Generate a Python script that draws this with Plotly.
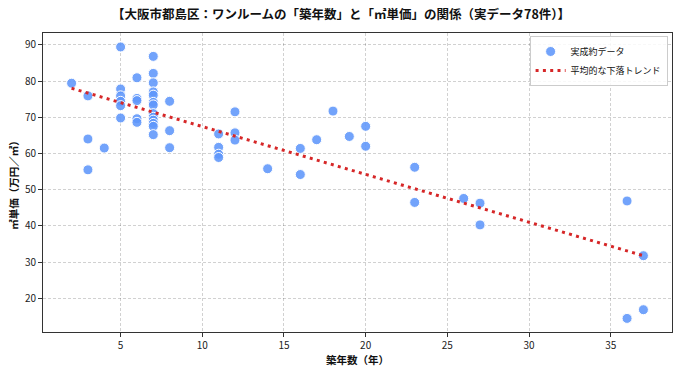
import plotly.graph_objects as go

# Observed transactions (building age in years, price per m2 in 10k yen)
age_years = [2, 3, 3, 3, 4,
             5, 5, 5, 5, 5, 5,
             6, 6, 6, 6, 6,
             7, 7, 7, 7, 7, 7, 7, 7, 7, 7, 7, 7, 7,
             8, 8, 8,
             11, 11, 11, 11,
             12, 12, 12,
             14, 16, 16, 17, 18, 19, 20, 20,
             23, 23, 26, 27, 27, 36, 36, 37, 37]
unit_price = [79.4, 75.9, 64.0, 55.5, 61.5,
              89.4, 77.8, 75.9, 74.4, 73.2, 69.8,
              80.9, 75.2, 74.6, 69.6, 68.6,
              86.8, 82.1, 79.5, 77.0, 76.1, 74.1, 73.4, 71.0, 70.0, 69.2, 68.3, 67.5, 65.2,
              74.4, 66.3, 61.6,
              65.4, 61.7, 59.8, 58.9,
              71.5, 65.7, 63.7,
              55.8, 61.4, 54.2, 63.8, 71.7, 64.7, 67.5, 62.0,
              56.2, 46.5, 47.6, 46.3, 40.3, 46.9, 14.5, 31.8, 16.9]

# Trend line end points
trend_x = [2, 37]
trend_y = [78.0, 31.8]

title_text = "【大阪市都島区：ワンルームの「築年数」と「㎡単価」の関係（実データ78件）】"
x_title = "築年数（年）"
y_title = "㎡単価（万円／㎡）"
x_ticks = [5, 10, 15, 20, 25, 30, 35]
y_ticks = [20, 30, 40, 50, 60, 70, 80, 90]

font_family = "Noto Sans CJK JP, DejaVu Sans, sans-serif"

fig = go.Figure()
fig.add_trace(go.Scatter(
    x=age_years, y=unit_price, mode="markers", name="実成約データ",
    marker=dict(color="rgba(95,150,250,0.88)", size=10,
                line=dict(color="white", width=1)),
))
fig.add_trace(go.Scatter(
    x=trend_x, y=trend_y, mode="lines", name="平均的な下落トレンド",
    line=dict(color="#d62728", width=3, dash="3px,4.3px"),
))

axis_common = dict(
    showline=True, linecolor="#333333", linewidth=1, mirror=True,
    ticks="outside", ticklen=4, tickcolor="#333333",
    showgrid=True, gridcolor="rgba(0,0,0,0.18)", griddash="3px,2px", gridwidth=1,
    zeroline=False, tickfont=dict(size=10, color="#222222", family=font_family),
)

fig.update_layout(
    width=682, height=375,
    margin=dict(l=43, r=10, t=33, b=43),
    paper_bgcolor="white", plot_bgcolor="white",
    font=dict(family=font_family, color="#111111"),
    title=dict(text="<b>" + title_text + "</b>", x=0.5, xanchor="center",
               y=0.962, yanchor="middle", font=dict(size=12.5, family=font_family)),
    xaxis=dict(range=[0.25, 38.75], tickvals=x_ticks,
               title=dict(text="<b>" + x_title + "</b>", font=dict(size=10.5), standoff=4),
               **axis_common),
    yaxis=dict(range=[10.75, 93.25], tickvals=y_ticks,
               title=dict(text="<b>" + y_title + "</b>", font=dict(size=10.5), standoff=4),
               **axis_common),
    legend=dict(x=0.993, y=0.99, xanchor="right", yanchor="top",
                bgcolor="rgba(255,255,255,0.85)", bordercolor="#cccccc", borderwidth=1,
                font=dict(size=9, family=font_family), itemwidth=30,
                tracegroupgap=0, valign="middle"),
    showlegend=True,
)

fig.write_html("out.html")
